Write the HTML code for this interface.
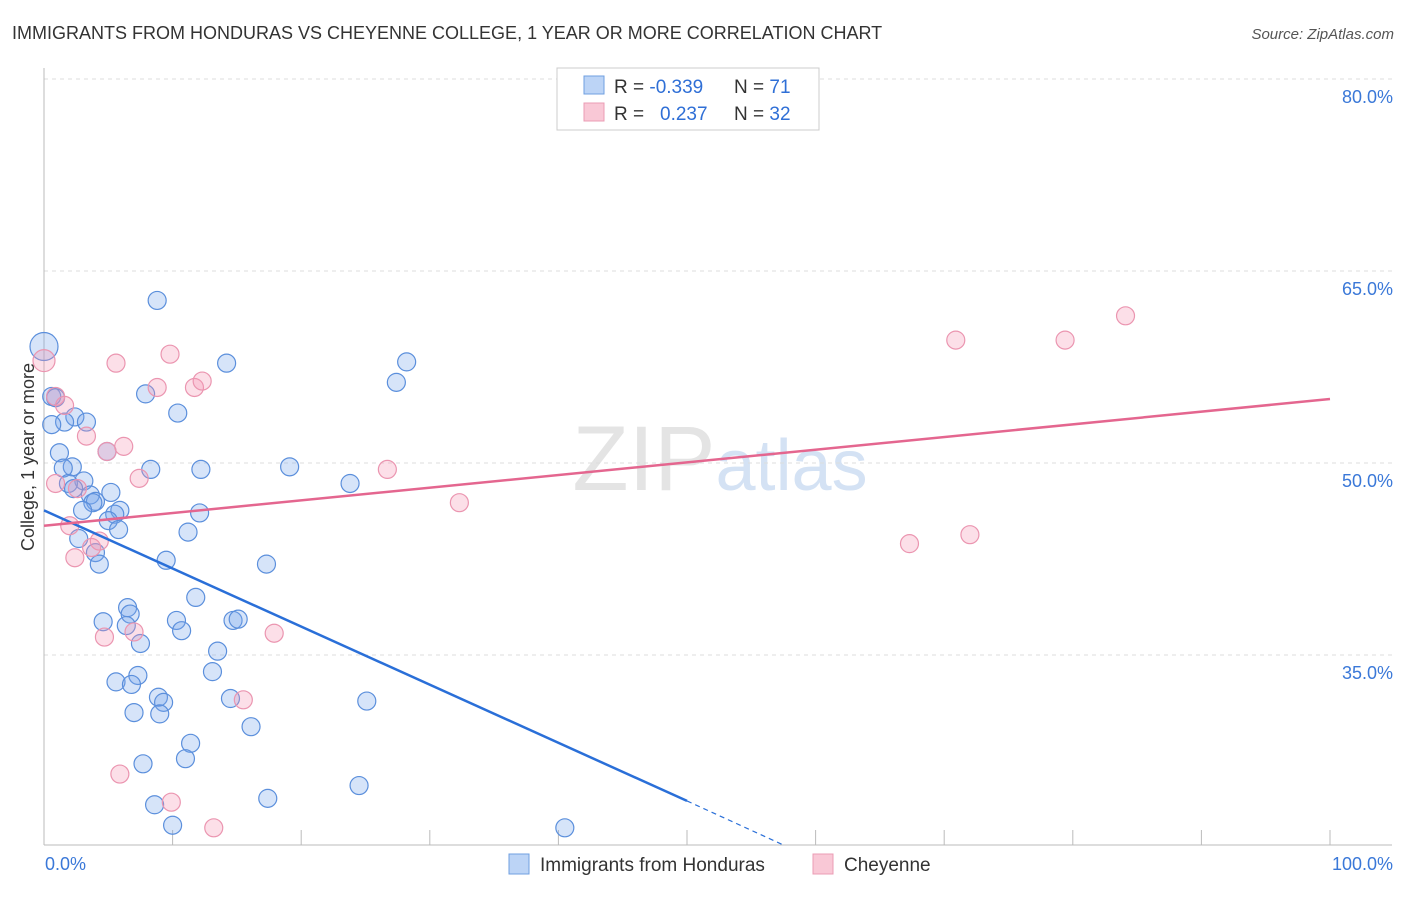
<!DOCTYPE html>
<html><head><meta charset="utf-8"><style>
body{margin:0;background:#fff;font-family:"Liberation Sans",sans-serif}
svg text{font-family:"Liberation Sans",sans-serif}
</style></head><body>
<svg id="c" width="1406" height="892">
<text x="12" y="39" font-size="18" fill="#333">IMMIGRANTS FROM HONDURAS VS CHEYENNE COLLEGE, 1 YEAR OR MORE CORRELATION CHART</text>
<text x="1394" y="39" font-size="15" fill="#555" text-anchor="end" font-style="italic">Source: ZipAtlas.com</text>
<text x="720" y="490" font-size="92" fill="#e4e4e4" text-anchor="middle" font-family="Liberation Serif">ZIP<tspan fill="#d4e2f4" font-family="Liberation Sans" font-size="72">atlas</tspan></text>
<g id="grid"></g><g id="axes"></g><g id="pts"></g><g id="lines"></g>
<text transform="translate(34,457) rotate(-90)" font-size="18" fill="#333" text-anchor="middle">College, 1 year or more</text>
<g>
<rect x="557" y="68" width="262" height="62" fill="#fff" stroke="#ccc"/>
<rect x="584" y="76" width="20" height="18" fill="#bcd4f6" stroke="#6f9fe0"/>
<rect x="584" y="103" width="20" height="18" fill="#f9c8d6" stroke="#eb9cb4"/>
<text x="614" y="93" font-size="19" fill="#333">R = <tspan fill="#2f6fd6">-0.339</tspan><tspan x="734">N = </tspan><tspan fill="#2f6fd6">71</tspan></text>
<text x="614" y="120" font-size="19" fill="#333">R = <tspan x="660" fill="#2f6fd6">0.237</tspan><tspan x="734">N = </tspan><tspan fill="#2f6fd6">32</tspan></text>
</g>
<g>
<rect x="509" y="854" width="20" height="20" fill="#bcd4f6" stroke="#6f9fe0"/>
<text x="540" y="871" font-size="19" fill="#333">Immigrants from Honduras</text>
<rect x="813" y="854" width="20" height="20" fill="#f9c8d6" stroke="#eb9cb4"/>
<text x="844" y="871" font-size="19" fill="#333">Cheyenne</text>
</g>
</svg>
<script>
const yTicks=[80,65,50,35];
const xTickLabels=["0.0%","100.0%"];
const blueX=[0,8.8,14.2,28.2,27.4,7.9,0.6,0.9,2.4,3.3,1.6,10.4,0.6,4.9,1.2,8.3,12.2,19.1,2.2,1.5,3.1,1.9,23.8,2.3,3.6,5.2,4.0,3.8,3.0,5.9,5.5,12.1,5.0,5.8,11.2,2.7,4.0,4.3,9.5,17.3,11.8,6.5,6.7,4.6,6.4,10.3,10.7,14.7,15.1,7.5,13.5,13.1,5.6,7.3,6.8,8.9,9.3,14.5,25.1,7.0,9.0,16.1,11.4,11.0,7.7,17.4,24.5,8.6,10.0,40.5];
const blueY=[59.1,62.7,57.8,57.9,56.3,55.4,55.2,55.1,53.6,53.2,53.2,53.9,53.0,50.9,50.8,49.5,49.5,49.7,49.7,49.6,48.6,48.4,48.4,48.0,47.5,47.7,47.0,46.9,46.3,46.3,46.0,46.1,45.5,44.8,44.6,44.1,43.0,42.1,42.4,42.1,39.5,38.7,38.2,37.6,37.3,37.7,36.9,37.7,37.8,35.9,35.3,33.7,32.9,33.4,32.7,31.7,31.3,31.6,31.4,30.5,30.4,29.4,28.1,26.9,26.5,23.8,24.8,23.3,21.7,21.5];
const pinkX=[0,5.6,9.8,8.8,11.7,12.3,0.9,1.6,3.3,6.2,4.9,7.4,0.9,2.6,2.0,4.3,3.7,2.4,4.7,7.0,17.9,15.5,5.9,9.9,13.2,26.7,32.3,67.3,72.0,70.9,79.4,84.1];
const pinkY=[58.0,57.8,58.5,55.9,55.9,56.4,55.2,54.5,52.1,51.3,50.9,48.8,48.4,48.0,45.1,43.9,43.4,42.6,36.4,36.8,36.7,31.5,25.7,23.5,21.5,49.5,46.9,43.7,44.4,59.6,59.6,61.5];
const blueTrend=[[0,46.3],[50,23.6],[57.4,20.2]];
const pinkTrend=[[0,45.1],[100,55.0]];
const NS="http://www.w3.org/2000/svg";
const X=v=>44+v*12.86, Y=v=>79+(80-v)*12.8;
function mk(t,a,p){const e=document.createElementNS(NS,t);for(const k in a)e.setAttribute(k,a[k]);document.getElementById(p).appendChild(e);return e;}
yTicks.forEach(t=>{
 const g=mk('line',{x1:44,x2:1392,y1:Y(t),y2:Y(t),stroke:'#ddd','stroke-dasharray':'4,4'},'grid');
 
 
 const l=mk('text',{x:1393,y:Y(t)+24,'font-size':18,fill:'#3a78d8','text-anchor':'end'},'grid');l.textContent=t.toFixed(1)+'%';
 
 
});
mk('line',{x1:44,x2:44,y1:68,y2:845,stroke:'#bbb'},'axes');
mk('line',{x1:44,x2:1392,y1:845,y2:845,stroke:'#bbb'},'axes');
for(let i=0;i<=10;i++){const t=mk('line',{x1:X(i*10),x2:X(i*10),y1:830,y2:845,stroke:'#bbb'},'axes');
 
 }
[[0,'start',45],[1,'end',1393]].forEach(([i,a,x])=>{const l=mk('text',{x:x,y:870,'font-size':18,fill:'#3a78d8','text-anchor':a},'axes');l.textContent=xTickLabels[i];
 
 });
function dots(xs,ys,fill,stroke,name){xs.forEach((x,i)=>{const r=(i===0&&name==='honduras-point')?14:(i===0?11:9);
 const c=mk('circle',{cx:X(x),cy:Y(ys[i]),r:r,fill:fill,stroke:stroke,'stroke-width':1.2},'pts');
 
 });}
dots(blueX,blueY,'rgba(120,165,235,0.3)','#5b8fdc','honduras-point');
dots(pinkX,pinkY,'rgba(245,150,180,0.3)','#eb95b0','cheyenne-point');
let b=mk('line',{x1:X(blueTrend[0][0]),y1:Y(blueTrend[0][1]),x2:X(blueTrend[1][0]),y2:Y(blueTrend[1][1]),stroke:'#2a6fd8','stroke-width':2.5},'lines');


let bd=mk('line',{x1:X(blueTrend[1][0]),y1:Y(blueTrend[1][1]),x2:X(blueTrend[2][0]),y2:Y(blueTrend[2][1]),stroke:'#2a6fd8','stroke-width':1.2,'stroke-dasharray':'5,4'},'lines');


let p=mk('line',{x1:X(pinkTrend[0][0]),y1:Y(pinkTrend[0][1]),x2:X(pinkTrend[1][0]),y2:Y(pinkTrend[1][1]),stroke:'#e4668f','stroke-width':2.5},'lines');


</script>
</body></html>
